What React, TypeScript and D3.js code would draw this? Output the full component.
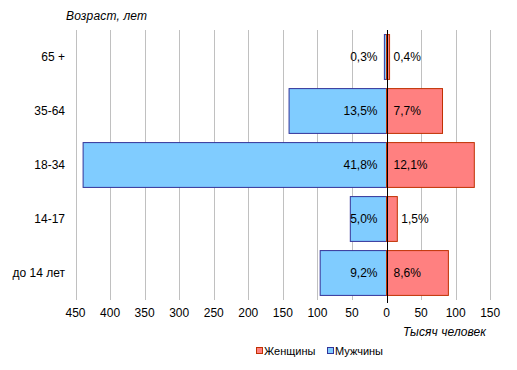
import React from "react";
import * as d3 from "d3";

const categories = ["65 +", "35-64", "18-34", "14-17", "до 14 лет"];
const maleValues = [3.1, 141, 439, 52.4, 96];
const femaleValues = [4.4, 81, 127, 15.6, 89.5];
const maleLabels = ["0,3%", "13,5%", "41,8%", "5,0%", "9,2%"];
const femaleLabels = ["0,4%", "7,7%", "12,1%", "1,5%", "8,6%"];
const xTicks = [-450, -400, -350, -300, -250, -200, -150, -100, -50, 0, 50, 100, 150];
const seriesNames = ["Женщины", "Мужчины"];

const W = 517;
const H = 370;
const FONT = "'Liberation Sans', Arial, sans-serif";
const BLUE_FILL = "#80CCFF";
const BLUE_STROKE = "#333399";
const RED_FILL = "#FF8080";
const RED_STROKE = "#C03000";

function FitText(props: { x: number; y: number; width: number; children: string }) {
  const ref = React.useRef<SVGTextElement>(null);
  const [ls, setLs] = React.useState(0);
  React.useEffect(() => {
    const el = ref.current;
    if (!el) return;
    const n = props.children.length;
    el.setAttribute("letter-spacing", "0");
    const w = el.getComputedTextLength();
    if (n > 1) setLs((props.width - w) / (n - 1));
  }, [props.children, props.width]);
  return (
    <text
      ref={ref}
      x={props.x}
      y={props.y}
      fontSize={12}
      fontStyle="italic"
      dominantBaseline="central"
      letterSpacing={ls}
    >
      {props.children}
    </text>
  );
}

export default function App() {
  const x = d3.scaleLinear().domain([-450, 150]).range([75.5, 490.2]);
  const y = d3
    .scaleBand<string>()
    .domain(categories)
    .range([30, 300])
    .paddingInner(0.17)
    .paddingOuter(0.085);
  const x0 = x(0);
  const bw = y.bandwidth();

  return (
    <svg
      width={W}
      height={H}
      style={{ position: "absolute", left: 0, top: 0, background: "#fff" }}
      fontFamily={FONT}
    >
      {xTicks
        .filter((t) => t !== 0)
        .map((t) => (
          <line
            key={"g" + t}
            x1={Math.round(x(t)) + 0.5}
            x2={Math.round(x(t)) + 0.5}
            y1={30}
            y2={300}
            stroke="#c0c0c0"
            strokeWidth={1}
          />
        ))}
      {categories.map((c, i) => {
        const yy = y(c)!;
        return (
          <g key={c}>
            <rect
              x={x(-maleValues[i])}
              y={yy}
              width={x0 - x(-maleValues[i])}
              height={bw}
              fill={BLUE_FILL}
              stroke={BLUE_STROKE}
              strokeWidth={1}
            />
            <rect
              x={x0}
              y={yy}
              width={x(femaleValues[i]) - x0}
              height={bw}
              fill={RED_FILL}
              stroke={RED_STROKE}
              strokeWidth={1}
            />
          </g>
        );
      })}
      <line x1={Math.round(x0) + 0.5} x2={Math.round(x0) + 0.5} y1={30} y2={303} stroke="#000" strokeWidth={1} />
      {categories.map((c, i) => {
        const cy = y(c)! + bw / 2;
        const fw = x(femaleValues[i]) - x0;
        const fx = fw < 20 ? x(femaleValues[i]) + 4 : x0 + 7;
        return (
          <g key={"l" + c} fontSize={12} fill="#000">
            <text x={x0 - 9} y={cy} textAnchor="end" dominantBaseline="central">
              {maleLabels[i]}
            </text>
            <text x={fx} y={cy} textAnchor="start" dominantBaseline="central">
              {femaleLabels[i]}
            </text>
            <text x={65} y={cy} textAnchor="end" dominantBaseline="central">
              {c}
            </text>
          </g>
        );
      })}
      {xTicks.map((t) => (
        <text
          key={"t" + t}
          x={x(t)}
          y={313}
          fontSize={12}
          textAnchor="middle"
          dominantBaseline="central"
        >
          {Math.abs(t)}
        </text>
      ))}
      <FitText x={66} y={16} width={81}>
        Возраст, лет
      </FitText>
      <FitText x={403} y={332} width={83}>
        Тысяч человек
      </FitText>
      <g fontSize={11}>
        <rect x={256.5} y={347.5} width={6} height={6} fill={RED_FILL} stroke={RED_STROKE} />
        <text x={264} y={351} dominantBaseline="central">
          {seriesNames[0]}
        </text>
        <rect x={327.5} y={347.5} width={6} height={6} fill={BLUE_FILL} stroke={BLUE_STROKE} />
        <text x={335} y={351} dominantBaseline="central">
          {seriesNames[1]}
        </text>
      </g>
    </svg>
  );
}
